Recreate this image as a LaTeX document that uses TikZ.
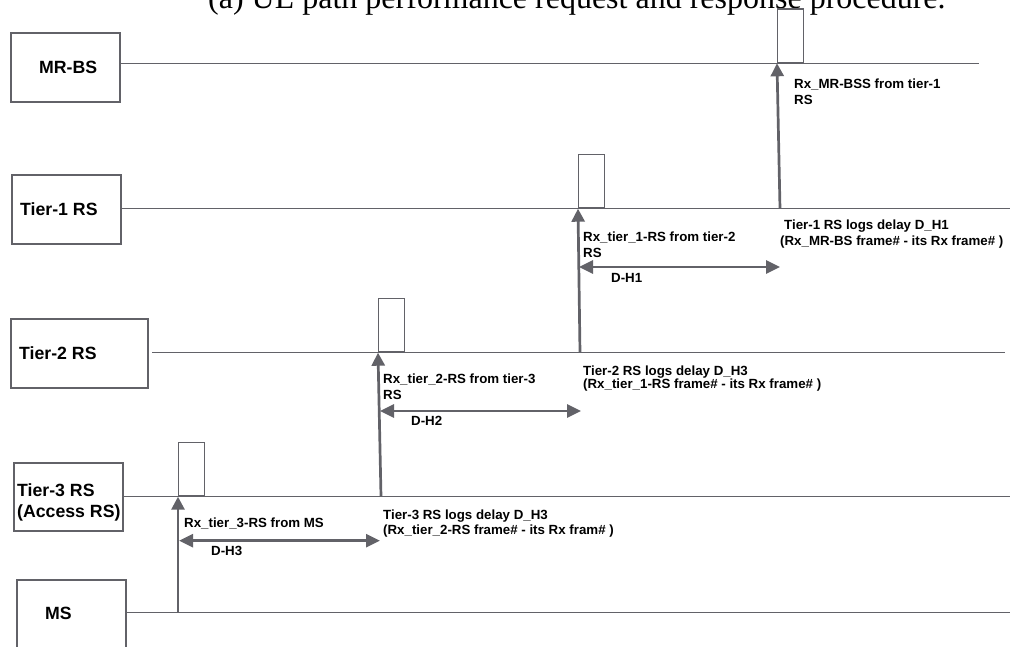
\documentclass[tikz,border=0pt]{standalone}
\usepackage{fontspec}
\setmainfont{Liberation Serif}
\setsansfont{Liberation Sans}
\usetikzlibrary{arrows.meta}
\definecolor{lc}{RGB}{98,98,104}
\begin{document}
\begin{tikzpicture}[x=1pt,y=-1pt,
  ent/.style={draw=lc,line width=1.8pt,fill=white,inner sep=0pt},
  big/.style={font=\fontsize{17.7}{22}\selectfont\sffamily\bfseries,inner sep=0pt,anchor=base west},
  sm/.style={font=\fontsize{13.3}{15}\selectfont\sffamily\bfseries,inner sep=0pt,anchor=base west},
  tl/.style={draw=lc,line width=1.5pt},
  sig/.style={draw=lc,line width=2.7pt,-{Triangle[length=13pt,width=13pt]}},
  dh/.style={draw=lc,line width=2.7pt,{Triangle[length=14pt,width=13pt]}-{Triangle[length=14pt,width=13pt]}},
  pulse/.style={draw=lc,line width=1.4pt,inner sep=0pt,minimum width=26pt,minimum height=53.5pt,anchor=south west}]
\useasboundingbox (0,0) rectangle (1013,646);
\fill[white] (0,0) rectangle (1013,646);

% title (cropped at top)
\node[font=\fontsize{32}{36}\selectfont,anchor=base west,inner sep=0pt] (title) at (208,8.5) {(a) UL path performance request and response procedure.};

% entity boxes
\node[ent,minimum width=109pt,minimum height=69pt] (mrbs) at (65.5,67.5) {};
\node[ent,minimum width=109pt,minimum height=69pt] (t1) at (66.5,209.5) {};
\node[ent,minimum width=137pt,minimum height=69pt] (t2) at (79.5,353.5) {};
\node[ent,minimum width=109pt,minimum height=68pt] (t3) at (68.5,497) {};
\node[ent,minimum width=109pt,minimum height=100pt] (ms) at (71.5,630) {};

\node[big] (mrbsL) at (39,73.3) {MR-BS};
\node[big] (t1L) at (20,215.5) {Tier-1 RS};
\node[big] (t2L) at (19,359) {Tier-2 RS};
\node[big] (t3L) at (17,496) {Tier-3 RS};
\node[big] (t3L2) at (17,517.5) {(Access RS)};
\node[big] (msL) at (45,619) {MS};

% timeline ends
\coordinate (mrbsE) at (979,63.3);
\coordinate (t1E) at (1010,208.7);
\coordinate (t2S) at (152,352.7);
\coordinate (t2E) at (1005,352.7);
\coordinate (t3E) at (1010,496.7);
\coordinate (msE) at (1010,612.3);

\draw[tl] (mrbs.east |- mrbsE) -- (mrbsE);
\draw[tl] (t1.east |- t1E) -- (t1E);
\draw[tl] (t2S) -- (t2E);
\draw[tl] (t3.east |- t3E) -- (t3E);
\draw[tl] (ms.east |- msE) -- (msE);

% signal points
\coordinate (ms-tx) at (178,612.3);
\coordinate (t3-rx) at (178,496.7);
\coordinate (t3-tx) at (381,496.7);
\coordinate (t2-rx) at (378,352.7);
\coordinate (t2-tx) at (580,352.7);
\coordinate (t1-rx) at (578,208.7);
\coordinate (t1-tx) at (780,208.7);
\coordinate (bs-rx) at (777,63.3);

% pulses
\node[pulse] (p3) at (t3-rx) {};
\node[pulse] (p2) at (t2-rx) {};
\node[pulse] (p1) at (t1-rx) {};
\node[pulse] (p0) at (bs-rx) {};

% signals
\draw[sig] (ms-tx) -- (t3-rx);
\draw[sig] (t3-tx) -- (t2-rx);
\draw[sig] (t2-tx) -- (t1-rx);
\draw[sig] (t1-tx) -- (bs-rx);

% delay arrows
\coordinate (d3a) at (179,540.7);
\coordinate (d3b) at (380,540.7);
\coordinate (d2a) at (380,411);
\coordinate (d2b) at (581,411);
\coordinate (d1a) at (579,267);
\coordinate (d1b) at (780,267);
\draw[dh] (d3a) -- (d3b);
\draw[dh] (d2a) -- (d2b);
\draw[dh] (d1a) -- (d1b);

% labels
\node[sm] (rx0) at (794,88) {Rx\_MR-BSS from tier-1};
\node[sm] (rx0b) at (794,104) {RS};
\node[sm] (lg1) at (784,229) {Tier-1 RS logs delay D\_H1};
\node[sm] (lg1b) at (780,245) {(Rx\_MR-BS frame\# - its Rx frame\# )};
\node[sm] (rx1) at (583,241) {Rx\_tier\_1-RS from tier-2};
\node[sm] (rx1b) at (583,257) {RS};
\node[sm] (dl1) at (611,282) {D-H1};

\node[sm] (lg2) at (583,375) {Tier-2 RS logs delay D\_H3};
\node[sm] (lg2b) at (583,388.5) {(Rx\_tier\_1-RS frame\# - its Rx frame\# )};
\node[sm] (rx2) at (383,383.5) {Rx\_tier\_2-RS from tier-3};
\node[sm] (rx2b) at (383,399) {RS};
\node[sm] (dl2) at (411,425) {D-H2};

\node[sm] (lg3) at (383,519) {Tier-3 RS logs delay D\_H3};
\node[sm] (lg3b) at (383,534.5) {(Rx\_tier\_2-RS frame\# - its Rx fram\# )};
\node[sm] (rx3) at (184,527.5) {Rx\_tier\_3-RS from MS};
\node[sm] (dl3) at (211,555) {D-H3};
\end{tikzpicture}
\end{document}
